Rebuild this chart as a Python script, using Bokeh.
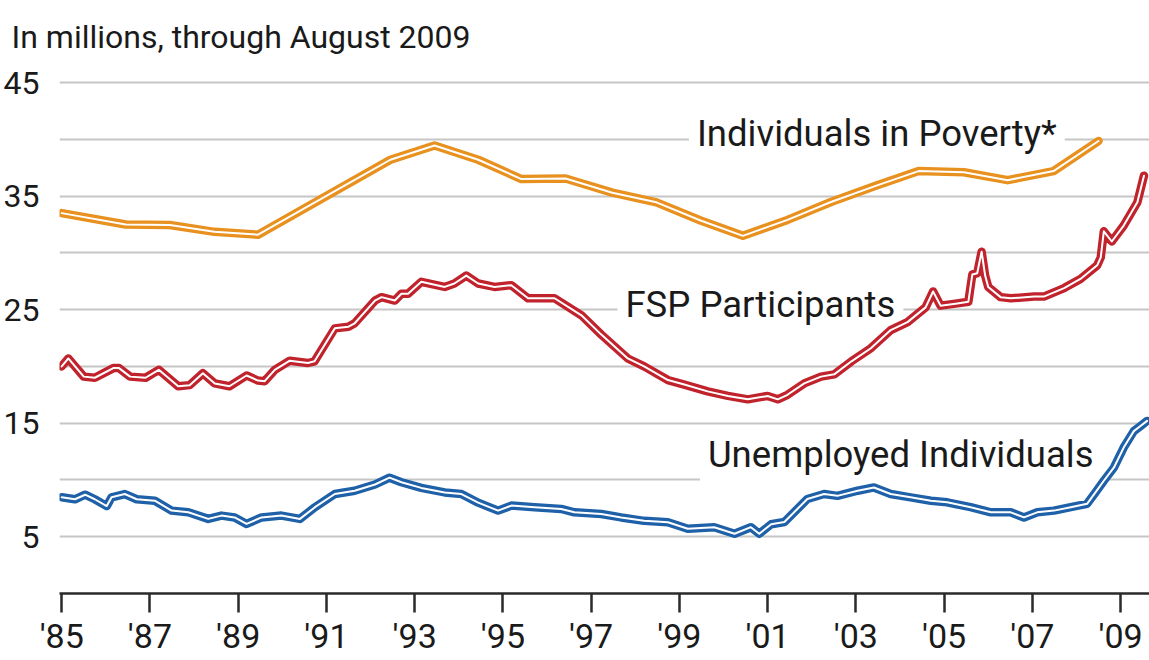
from bokeh.plotting import figure
from bokeh.models import Range1d, FixedTicker, Label, ColumnDataSource
from bokeh.embed import file_html
from bokeh.resources import INLINE

# ---------------- data ----------------
poverty_year = [1985.0, 1986.45, 1987.45, 1988.46, 1989.45, 1990.45, 1991.45, 1992.45,
                1993.45, 1994.44, 1995.42, 1996.42, 1997.48, 1998.48, 1999.48, 2000.44,
                2001.45, 2002.45, 2003.45, 2004.42, 2005.45, 2006.44, 2007.48, 2008.5]
poverty_val = [33.5, 32.5, 32.45, 31.85, 31.6, 33.8, 36.0, 38.2,
               39.45, 38.2, 36.5, 36.55, 35.3, 34.45, 32.85, 31.5,
               32.9, 34.5, 35.9, 37.2, 37.1, 36.4, 37.2, 39.85]

fsp_year = [1985.0, 1985.15, 1985.5, 1985.75, 1986.17, 1986.3, 1986.55, 1986.9, 1987.2,
            1987.64, 1987.9, 1988.2, 1988.47, 1988.8, 1989.19, 1989.45, 1989.6, 1989.83,
            1990.17, 1990.58, 1990.73, 1991.19, 1991.5, 1991.64, 1992.1, 1992.25, 1992.55,
            1992.7, 1992.85, 1993.15, 1993.68, 1993.9, 1994.17, 1994.44, 1994.81, 1995.19,
            1995.57, 1996.17, 1996.78, 1997.23, 1997.83, 1998.2, 1998.74, 1999.11, 1999.64,
            2000.1, 2000.55, 2001.0, 2001.23, 2001.45, 2001.83, 2002.21, 2002.51, 2002.9,
            2003.34, 2003.79, 2004.17, 2004.58, 2004.75, 2004.92, 2005.3, 2005.55, 2005.64,
            2005.75, 2005.85, 2005.93, 2006.0, 2006.28, 2006.51, 2007.04, 2007.26, 2007.72,
            2008.09, 2008.47, 2008.55, 2008.62, 2008.8, 2009.07, 2009.38, 2009.53]
fsp_val = [20.0, 20.7, 19.1, 19.0, 19.85, 19.85, 19.1, 19.0, 19.7,
           18.25, 18.35, 19.4, 18.5, 18.25, 19.2, 18.75, 18.7, 19.7,
           20.5, 20.3, 20.45, 23.35, 23.5, 23.8, 25.8, 26.1, 25.8,
           26.4, 26.4, 27.45, 27.0, 27.3, 28.0, 27.3, 27.0, 27.15,
           26.0, 26.0, 24.5, 22.8, 20.7, 20.0, 18.8, 18.4, 17.8,
           17.4, 17.1, 17.4, 17.1, 17.5, 18.5, 19.1, 19.3, 20.45,
           21.6, 23.2, 23.9, 25.2, 26.6, 25.35, 25.55, 25.7, 28.1,
           28.2, 30.1, 28.0, 27.0, 26.1, 26.0, 26.15, 26.15, 26.9,
           27.7, 28.9, 29.6, 31.9, 31.0, 32.4, 34.45, 36.8]

unemp_year = [1985.0, 1985.3, 1985.53, 1985.75, 1986.02, 1986.13, 1986.43, 1986.7, 1987.11,
              1987.49, 1987.87, 1988.32, 1988.62, 1988.92, 1989.19, 1989.53, 1989.98, 1990.4,
              1990.74, 1991.19, 1991.64, 1992.1, 1992.43, 1992.7, 1993.15, 1993.68, 1994.06,
              1994.44, 1994.89, 1995.19, 1995.72, 1996.32, 1996.62, 1997.23, 1997.68, 1998.2,
              1998.74, 1999.19, 1999.79, 2000.25, 2000.62, 2000.81, 2001.08, 2001.38, 2001.9,
              2002.28, 2002.58, 2003.04, 2003.41, 2003.79, 2004.24, 2004.7, 2005.07, 2005.6,
              2006.06, 2006.51, 2006.81, 2007.11, 2007.49, 2007.87, 2008.24, 2008.43, 2008.62,
              2008.85, 2009.07, 2009.3, 2009.45, 2009.6]
unemp_val = [8.47, 8.3, 8.7, 8.3, 7.7, 8.47, 8.76, 8.3, 8.17,
             7.3, 7.15, 6.57, 6.86, 6.7, 6.13, 6.7, 6.86, 6.57,
             7.6, 8.76, 9.05, 9.6, 10.2, 9.8, 9.3, 8.9, 8.76,
             8.0, 7.3, 7.74, 7.6, 7.45, 7.15, 7.0, 6.7, 6.4,
             6.28, 5.7, 5.84, 5.26, 5.84, 5.26, 6.1, 6.3, 8.32,
             8.76, 8.6, 9.05, 9.34, 8.76, 8.47, 8.17, 8.03, 7.6,
             7.15, 7.15, 6.7, 7.15, 7.3, 7.6, 7.9, 8.9, 9.93,
             11.1, 12.85, 14.3, 14.75, 15.2]

x_ticks = [1985, 1987, 1989, 1991, 1993, 1995, 1997, 1999, 2001, 2003, 2005, 2007, 2009]
x_tick_labels = ["'85", "'87", "'89", "'91", "'93", "'95", "'97", "'99", "'01", "'03", "'05", "'07", "'09"]
y_ticks = [5, 15, 25, 35, 45]
y_grid = [5, 10, 15, 20, 25, 30, 35, 40, 45]

title_text = "In millions, through August 2009"
series_labels = ["Individuals in Poverty*", "FSP Participants", "Unemployed Individuals"]
label_pos_x = [1999.42, 1997.8, 1999.67]
label_pos_y = [39.35, 24.3, 11.1]

ORANGE = "#E8911E"
RED = "#C1232D"
BLUE = "#1E61A8"
FONT = "Roboto"
TEXT = "#1a1a1a"

# ---------------- figure ----------------
p = figure(width=1149, height=660, output_backend="svg", toolbar_location=None,
           x_range=Range1d(1984.95, 2009.655), y_range=Range1d(0, 46.06),
           min_border_left=58, min_border_right=0, min_border_top=70, min_border_bottom=67)
p.outline_line_color = None
p.background_fill_color = "white"
p.border_fill_color = "white"

p.title.text = title_text
p.title.text_font = FONT
p.title.text_font_size = "32px"
p.title.text_font_style = "normal"
p.title.text_color = TEXT
p.title.align = "left"
p.title.vertical_align = "top"
p.title.offset = -48
p.title.standoff = 26

p.xgrid.visible = False
p.ygrid.ticker = FixedTicker(ticks=y_grid)
p.ygrid.grid_line_color = "#C6C6C6"
p.ygrid.grid_line_width = 2

xa = p.xaxis[0]
xa.ticker = FixedTicker(ticks=x_ticks)
xa.major_label_overrides = {t: l for t, l in zip(x_ticks, x_tick_labels)}
xa.axis_line_color = "#2a2a2a"
xa.axis_line_width = 2.5
xa.major_tick_line_color = "#2a2a2a"
xa.major_tick_line_width = 2.5
xa.major_tick_out = 19
xa.major_tick_in = 0
xa.minor_tick_line_color = None
xa.major_label_standoff = 3
xa.major_label_text_font = FONT
xa.major_label_text_font_size = "34px"
xa.major_label_text_color = TEXT

ya = p.yaxis[0]
ya.ticker = FixedTicker(ticks=y_ticks)
ya.axis_line_color = None
ya.major_tick_line_color = None
ya.minor_tick_line_color = None
ya.major_tick_out = 0
ya.major_tick_in = 0
ya.major_label_standoff = 20
ya.major_label_text_font = FONT
ya.major_label_text_font_size = "32px"
ya.major_label_text_color = TEXT

# series labels with white boxes that interrupt grid lines
for txt, lx, ly in zip(series_labels, label_pos_x, label_pos_y):
    p.add_layout(Label(x=lx, y=ly, x_offset=-9, y_offset=13, text=txt, text_font=FONT,
                       text_font_size="36.5px", text_color=TEXT, text_baseline="alphabetic",
                       background_fill_color="white", padding=8, level="underlay"))

def double_line(xs, ys, color):
    src = ColumnDataSource(dict(x=xs, y=ys))
    p.line("x", "y", source=src, line_color=color, line_width=8.5, line_join="round", line_cap="round")
    p.line("x", "y", source=src, line_color="white", line_width=2, line_join="round", line_cap="round")

double_line(poverty_year, poverty_val, ORANGE)
double_line(fsp_year, fsp_val, RED)
double_line(unemp_year, unemp_val, BLUE)

open("out.html", "w").write(file_html(p, INLINE))
